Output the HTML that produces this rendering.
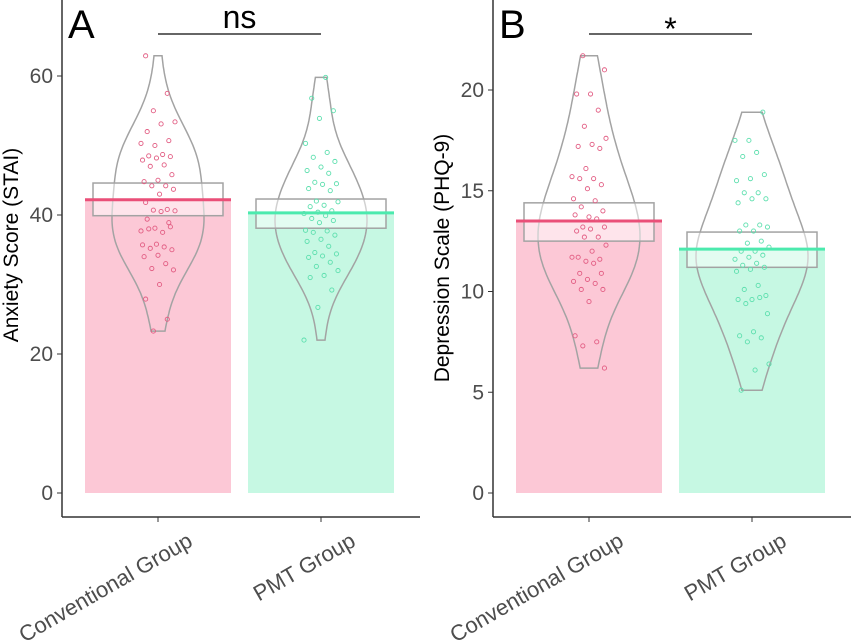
<!DOCTYPE html>
<html><head><meta charset="utf-8"><style>
html,body{margin:0;padding:0;background:#fff;}
svg{display:block;font-family:"Liberation Sans",sans-serif;}
</style></head><body>
<svg id="chart" width="851" height="644" viewBox="0 0 851 644"></svg>
<script>
const groups = ["Conventional Group","PMT Group"];
const meansA = [42.2, 40.3];
const ciLowA = [39.9, 38.1];
const ciHighA = [44.6, 42.3];
const meansB = [13.5, 12.1];
const ciLowB = [12.5, 11.2];
const ciHighB = [14.4, 12.95];
const ticksA = [0,20,40,60];
const ticksB = [0,5,10,15,20];
const convA = [62.9,57.5,55.0,53.4,53.1,52.0,50.7,50.0,50.3,48.7,48.5,48.4,48.2,47.9,47.2,47.0,45.8,45.0,44.8,44.2,44.2,43.7,43.0,41.8,40.8,40.7,40.6,40.5,39.4,38.9,38.1,37.7,37.5,38.0,38.3,35.8,35.7,35.4,35.2,35.0,34.2,34.0,33.0,32.3,32.1,30.0,27.9,25.0,23.3];
const pmtA = [59.8,56.8,55.0,53.9,50.3,49.0,48.3,47.7,46.9,46.4,46.0,44.7,44.5,44.4,43.8,43.5,42.0,41.9,41.4,41.2,40.6,40.4,40.2,39.9,39.5,39.2,38.9,37.8,37.7,37.5,37.1,36.5,36.2,35.5,34.6,34.4,34.1,33.9,33.2,32.6,32.0,31.3,31.0,29.2,26.7,22.0];
const convB = [21.7,21.0,19.8,19.8,19.0,18.2,17.6,17.3,17.2,17.1,16.1,15.7,15.6,15.6,15.3,15.1,14.6,14.5,14.2,14.0,13.7,13.8,13.6,13.2,13.2,13.1,13.0,12.7,12.7,12.3,12.0,11.7,11.6,11.5,11.7,11.4,10.9,10.9,10.6,10.5,10.4,10.1,10.1,9.5,7.8,7.5,7.3,6.2];
const pmtB = [18.9,17.5,17.5,16.9,16.7,15.8,15.6,15.5,14.9,14.9,14.6,14.6,14.4,13.3,13.3,13.2,13.0,13.0,12.5,12.4,12.2,12.0,12.0,11.8,11.7,11.6,11.4,11.3,11.2,11.1,11.0,10.3,10.1,9.8,9.6,9.6,9.7,9.4,8.9,8.0,7.8,7.7,7.5,6.4,6.1,5.1];

const NS="http://www.w3.org/2000/svg";
const svg=document.getElementById('chart');
function mk(tag,attrs,parent){const e=document.createElementNS(NS,tag);for(const k in attrs)e.setAttribute(k,attrs[k]);(parent||svg).appendChild(e);return e;}

const fills=["#fcc8d6","#c6f8e3"], lines=["#ea4f78","#4ceaae"], pts=["#e25d83","#5ddfae"];

function panel(cfg){
  const g=mk('g',{});
  
  
  const y=v=>cfg.y0-(v)*cfg.ppu;
  const xc=[cfg.axisX+96,cfg.axisX+259];
  const bw=146;
  const data=[cfg.d1,cfg.d2];
  for(let i=0;i<2;i++){
    const b=mk('rect',{x:xc[i]-73,y:y(cfg.means[i]),width:bw,height:cfg.y0-y(cfg.means[i]),fill:fills[i]},g);
    
    
    const d=data[i];const n=d.length;
    const mean=d.reduce((a,b)=>a+b,0)/n;
    const sd=Math.sqrt(d.reduce((a,b)=>a+(b-mean)*(b-mean),0)/(n-1));
    const h=1.06*sd*Math.pow(n,-0.2);
    const mn=Math.min(...d),mx=Math.max(...d);
    const steps=80,dens=[];
    for(let s=0;s<=steps;s++){const v=mn+(mx-mn)*s/steps;let k=0;for(const p of d)k+=Math.exp(-0.5*((v-p)/h)**2);dens.push([v,k]);}
    const dm=Math.max(...dens.map(p=>p[1]));
    let L=[],R=[];
    for(const [v,k] of dens){const w=k/dm*cfg.halfW[i];L.push((xc[i]-w).toFixed(1)+','+y(v).toFixed(1));R.push((xc[i]+w).toFixed(1)+','+y(v).toFixed(1));}
    const vp=mk('polygon',{points:L.concat(R.reverse()).join(' '),fill:'none',stroke:'#a3a3a3','stroke-width':1.5},g);
    
    
    const ci=mk('rect',{x:xc[i]-65,y:y(cfg.hi[i]),width:130,height:y(cfg.lo[i])-y(cfg.hi[i]),fill:'rgba(255,255,255,0.5)',stroke:'#a3a3a3','stroke-width':1.5},g);
    
    
    const ml=mk('line',{x1:xc[i]-73,x2:xc[i]+73,y1:y(cfg.means[i]),y2:y(cfg.means[i]),stroke:lines[i],'stroke-width':3},g);
    
    
    d.forEach((v,j)=>{
      const jit=(((j*37+i*11+cfg.seed)%23)/22-0.5)*34;
      const c=mk('circle',{cx:xc[i]+jit,cy:y(v),r:2.1,fill:'none',stroke:pts[i],'stroke-width':0.9},g);
      
      
    });
    mk('line',{x1:xc[i],x2:xc[i],y1:517,y2:522,stroke:'#333','stroke-width':1},g);
    const ax_=xc[i]+36, ay_=545;
    const t=mk('text',{x:ax_,y:ay_,'text-anchor':'end','font-size':22,fill:'#4d4d4d',transform:`rotate(-30 ${ax_} ${ay_})`},g);
    t.textContent=groups[i];
    
    
  }
  const ax=mk('line',{x1:cfg.axisX,x2:cfg.axisX,y1:0,y2:517,stroke:'#333','stroke-width':1.5},g);
  
  const xa=mk('line',{x1:cfg.axisX,x2:cfg.axisX+358,y1:517,y2:517,stroke:'#333','stroke-width':1.5},g);
  
  cfg.ticks.forEach(tv=>{
    mk('line',{x1:cfg.axisX-5,x2:cfg.axisX,y1:y(tv),y2:y(tv),stroke:'#333','stroke-width':1},g);
    const t=mk('text',{x:cfg.axisX-9,y:y(tv)+7,'text-anchor':'end','font-size':21,fill:'#4d4d4d'},g);
    t.textContent=tv;
    
    
  });
  const yt=mk('text',{x:0,y:0,'text-anchor':'middle','font-size':21,fill:'#000',transform:`translate(${cfg.axisX-44},${cfg.titleY}) rotate(-90)`},g);
  yt.textContent=cfg.title;
  
  const lt=mk('text',{x:cfg.axisX+6,y:38,'font-size':40,fill:'#000'},g);
  lt.textContent=cfg.letter;
  
  const br=mk('line',{x1:xc[0],x2:xc[1],y1:34,y2:34,stroke:'#333','stroke-width':1.5},g);
  
  const st=mk('text',{x:(xc[0]+xc[1])/2,y:cfg.sigY,'text-anchor':'middle','font-size':cfg.sigSize,fill:'#000'},g);
  st.textContent=cfg.sig;
  
}
panel({name:'panel-a',axisX:62,y0:493,ppu:6.95,means:meansA,lo:ciLowA,hi:ciHighA,ticks:ticksA,d1:convA,d2:pmtA,halfW:[46,46],title:'Anxiety Score (STAI)',titleY:245,letter:'A',sig:'ns',sigY:28,sigSize:32,seed:3});
panel({name:'panel-b',axisX:493,y0:493,ppu:20.15,means:meansB,lo:ciLowB,hi:ciHighB,ticks:ticksB,d1:convB,d2:pmtB,halfW:[51,56],title:'Depression Scale (PHQ-9)',titleY:258,letter:'B',sig:'*',sigY:40,sigSize:32,seed:7});
</script>
</body></html>
